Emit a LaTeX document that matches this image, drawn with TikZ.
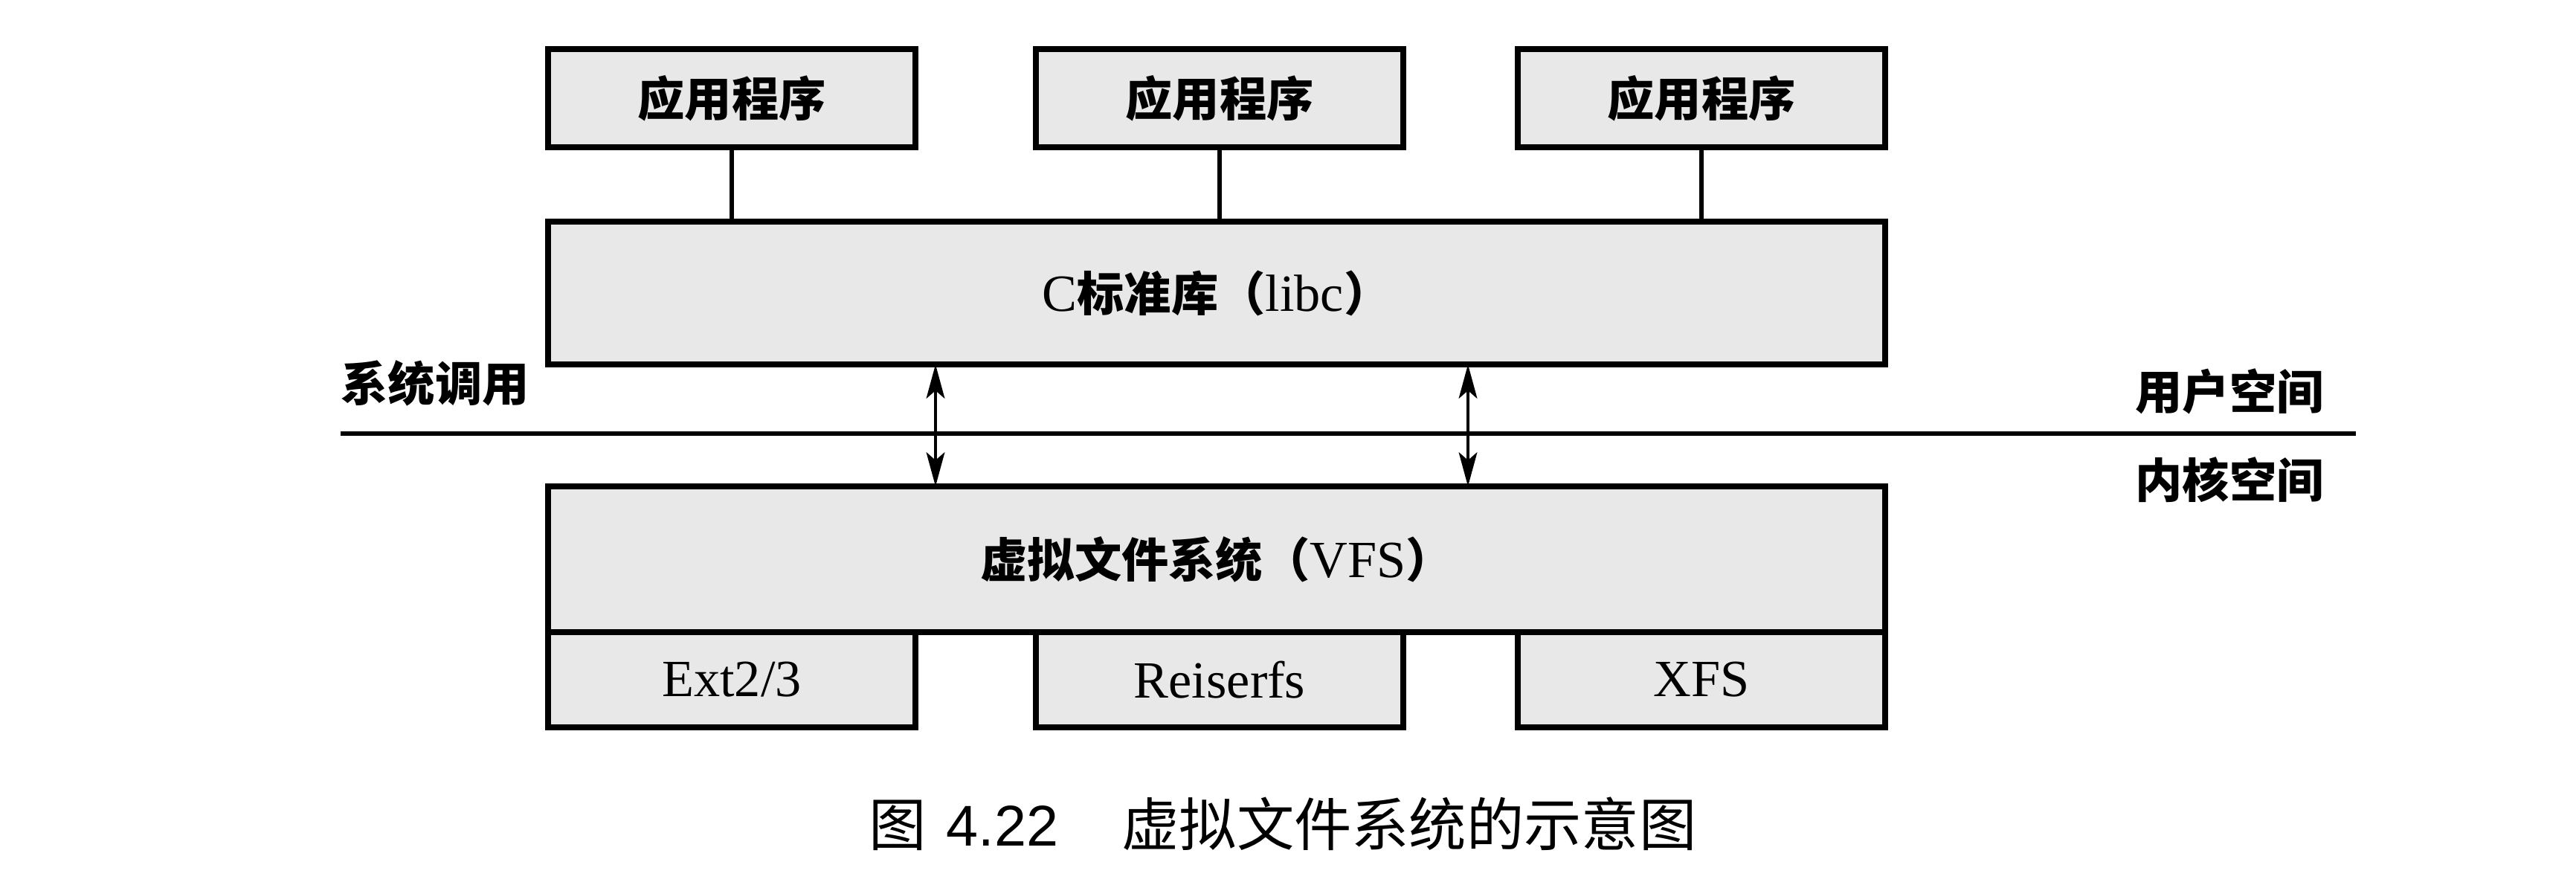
\documentclass[tikz,border=0pt]{standalone}
\usepackage{fontspec}
\setmainfont{Liberation Serif}
\newfontfamily\hei{Noto Sans CJK SC}
\newfontfamily\arial{Liberation Sans}
\usetikzlibrary{arrows.meta}

\begin{document}
\begin{tikzpicture} [
  layer/.style = {draw, line width=2.2pt, fill=black!9, inner sep=0pt, outer sep=0pt, font=\fontsize{20}{22}\selectfont},
  app/.style = {layer, minimum width=4.94cm, minimum height=1.32cm},
  wide/.style = {layer, minimum width=17.98cm},
  fs/.style = {layer, anchor=north, minimum width=4.94cm, minimum height=1.28cm},
  side/.style = {font=\hei\bfseries\fontsize{18}{20}\selectfont},
  cjk/.style = {font=\hei\bfseries\fontsize{18}{20}\selectfont},
  link/.style = {line width=1.5pt},
  call/.style = {line width=1.4pt, {Stealth[length=13pt,width=7pt,inset=3pt]}-{Stealth[length=13pt,width=7pt,inset=3pt]}}
]
\useasboundingbox (0,0) rectangle (34.64,11.89);
\node[app, cjk] (app1) at (9.84,10.57) {应用程序};
\node[app, cjk] (app2) at (16.40,10.57) {应用程序};
\node[app, cjk] (app3) at (22.88,10.57) {应用程序};
\node[wide, minimum height=1.92cm] (libc) at (16.36,7.95) {C{\hei\bfseries\fontsize{18}{20}\selectfont 标准库（}libc{\hei\bfseries\fontsize{18}{20}\selectfont ）}};
\node[wide, minimum height=1.96cm] (vfs) at (16.36,4.37) {{\hei\bfseries\fontsize{18}{20}\selectfont 虚拟文件系统（}VFS{\hei\bfseries\fontsize{18}{20}\selectfont ）}};
\node[fs] (ext) at (app1 |- vfs.south) {Ext2/3};
\node[fs] (reiser) at (app2 |- vfs.south) {Reiserfs};
\node[fs] (xfs) at (app3 |- vfs.south) {XFS};
\coordinate (sepL) at (4.58,6.06);
\coordinate (sepR) at (31.68,6.06);
\coordinate (c1) at (12.58,6.06);
\coordinate (c2) at (19.74,6.06);
\node[side] (syscall) at (5.85,6.74) {系统调用};
\node[side] (user) at (29.98,6.63) {用户空间};
\node[side] (kernel) at (29.98,5.44) {内核空间};
\node[font=\hei\fontsize{22}{24}\selectfont] (caption) at (17.25,0.81) {图\hspace{0.35em}{\arial 4.22}\hspace{1.1em}虚拟文件系统的示意图};
\draw[link] (app1) -- (app1 |- libc.north);
\draw[link] (app2) -- (app2 |- libc.north);
\draw[link] (app3) -- (app3 |- libc.north);
\draw[link] (sepL) -- (sepR);
\draw[call] (libc.south -| c1) -- (vfs.north -| c1);
\draw[call] (libc.south -| c2) -- (vfs.north -| c2);
\end{tikzpicture}
\end{document}
